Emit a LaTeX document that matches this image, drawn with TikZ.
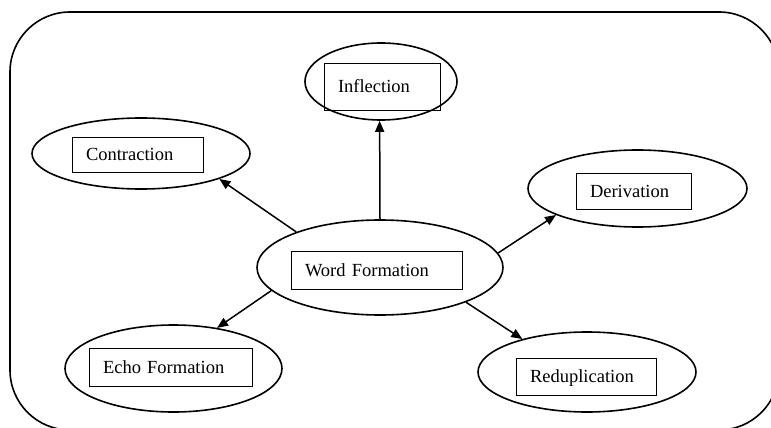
\documentclass[tikz,border=0pt]{standalone}
\usepackage{fontspec}
\setmainfont{Liberation Serif}
\usetikzlibrary{shapes.geometric,arrows.meta}
\begin{document}
\begin{tikzpicture}[x=1pt,y=-1pt,
  oval/.style={draw,ellipse,line width=1.6pt,inner sep=0pt},
  labelbox/.style={draw,line width=0.7pt,rectangle,inner xsep=14pt,inner ysep=0pt,
    align=left,text height=12.5pt,text depth=0pt,
    font=\fontsize{18.5}{20}\selectfont},
  conn/.style={line width=1.5pt,-{Triangle[length=11pt,width=9pt]}}]
\useasboundingbox (0,0) rectangle (771,428);
\begin{scope}
\clip (0,0) rectangle (771,428);
\draw[line width=1.6pt,rounded corners=60pt] (10,12) rectangle (779,430);
\end{scope}
% ellipses
\node[oval,minimum width=246pt,minimum height=95pt] (wf) at (380,267.5) {};
\node[oval,minimum width=152pt,minimum height=77pt] (infl) at (381,81.5) {};
\node[oval,minimum width=218pt,minimum height=71pt] (contr) at (141,153.5) {};
\node[oval,minimum width=219pt,minimum height=77pt] (deriv) at (637.5,188.5) {};
\node[oval,minimum width=217pt,minimum height=87pt] (echo) at (173.5,368.5) {};
\node[oval,minimum width=218pt,minimum height=80pt] (redup) at (587,372) {};
% label boxes
\node[labelbox,text width=143pt,minimum height=38pt] (wft) at (376.5,270) {Word Formation};
\node[labelbox,text width=88pt,minimum height=47pt] (inflt) at (382,86.5) {Inflection};
\node[labelbox,text width=103pt,minimum height=35pt] (contrt) at (137.5,154.5) {Contraction};
\node[labelbox,text width=87pt,minimum height=36pt] (derivt) at (633.5,191) {Derivation};
\node[labelbox,text width=135pt,minimum height=38pt] (echot) at (170.5,367) {Echo Formation};
\node[labelbox,text width=112pt,minimum height=37pt] (redupt) at (586,376.5) {Reduplication};
% connectors
\draw[conn] (wf.90) -- (infl.268);
\draw[conn] (wf.157.5) -- (contr.342.7);
\draw[conn] (wf.7.4) -- (deriv.198.9);
\draw[conn] (wf.338.4) -- (redup.153);
\draw[conn] (wf.192.6) -- (echo.43);
\end{tikzpicture}
\end{document}
